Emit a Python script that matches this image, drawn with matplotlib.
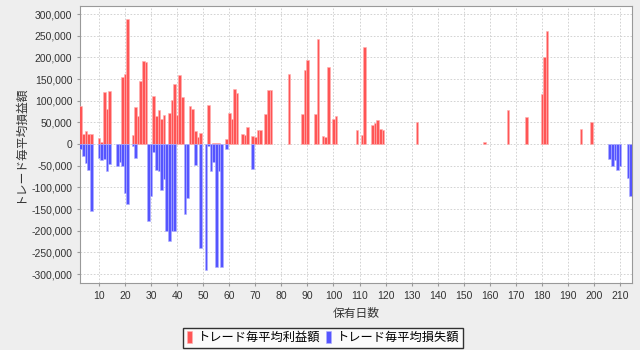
import matplotlib
matplotlib.use('Agg')
import matplotlib.pyplot as plt
from matplotlib.ticker import FuncFormatter, MultipleLocator
from matplotlib.patches import Patch

plt.rcParams['font.family'] = ['Liberation Sans', 'Noto Sans CJK JP', 'DejaVu Sans']

# holding days -> average profit per trade
profit_days = [3, 4, 5, 6, 7, 10, 11, 12, 13, 14, 19, 20, 21, 23, 24, 25, 26, 27, 28,
               31, 32, 33, 34, 35, 37, 38, 39, 40, 41, 42, 45, 46, 47, 48, 49, 52,
               54, 55, 56, 59, 60, 61, 62, 63, 65, 66, 67, 69, 70, 71, 72, 74, 75, 76,
               83, 88, 89, 90, 93, 94, 96, 97, 98, 100, 101, 109, 111, 112,
               115, 116, 117, 118, 119, 132, 158, 167, 174, 180, 181, 182, 195, 199]
profit_vals = [86900, 23000, 29200, 23000, 23000, 13800, 4000, 120700, 81500, 123000,
               156100, 162300, 290000, 21500, 85400, 64600, 146100, 192300, 190000,
               111500, 64600, 79200, 56900, 66900, 71500, 102300, 139200, 66900, 160000,
               108400, 86900, 80700, 30800, 16100, 26100, 90000,
               2000, 2000, 2000, 11500, 71500, 57700, 128400, 117700, 23000, 21500,
               40000, 17700, 15400, 33100, 33100, 69200, 125300, 123800,
               162300, 69200, 171500, 194600, 69200, 243800, 19200, 15400, 176900,
               56900, 63800, 33100, 21500, 225300,
               44600, 48400, 54600, 35400, 32300, 51500, 3800, 78400, 62300,
               115400, 200700, 261500, 34600, 51500]

# holding days -> average loss per trade
loss_days = [3, 4, 5, 6, 7, 10, 11, 12, 13, 14, 17, 18, 19, 20, 21, 23, 24,
             29, 30, 31, 32, 33, 34, 35, 36, 37, 38, 39, 43, 44, 47, 49, 51, 52,
             53, 54, 55, 56, 57, 59, 69, 206, 207, 208, 209, 210, 213, 214]
loss_vals = [-11500, -28500, -43800, -60800, -155300, -31500, -36900, -34600, -62300,
             -46900, -50800, -40800, -50800, -112300, -139200, -5400, -31500,
             -176900, -120000, -19200, -59200, -62300, -106100, -80000, -200000,
             -223800, -201500, -200000, -160700, -124600, -49200, -240000, -290000,
             -3800, -63100, -40800, -283800, -61500, -283800, -11500, -57700,
             -35400, -51500, -37700, -59200, -51500, -79200, -119200]

profit_label = 'トレード毎平均利益額'
loss_label = 'トレード毎平均損失額'
red = '#ff5555'
blue = '#5555ff'

fig = plt.figure(figsize=(6.4, 3.5), dpi=100, facecolor='#eeeeee')
ax = fig.add_axes([0.125, 0.191, 0.8625, 0.792])
ax.set_facecolor('white')

ax.bar(profit_days, profit_vals, width=1.0, color=red, edgecolor='#ffb0b0', linewidth=0.4, zorder=3)
ax.bar(loss_days, loss_vals, width=1.0, color=blue, edgecolor='#b0b0ff', linewidth=0.4, zorder=3)

ax.set_xlim(2.7, 214.6)
ax.set_ylim(-321000, 319000)
ax.yaxis.set_major_locator(MultipleLocator(50000))
ax.yaxis.set_major_formatter(FuncFormatter(lambda v, p: '{:,.0f}'.format(v)))
ax.set_xticks(range(10, 211, 10))

ax.grid(True, color='#cccccc', linestyle=(0, (2, 2)), linewidth=0.6, zorder=0)
for s in ax.spines.values():
    s.set_color('#999999')
    s.set_linewidth(0.8)
ax.tick_params(labelsize=7.5, colors='#999999', labelcolor='#333333', length=2, width=0.8)

ax.set_xlabel('保有日数', fontsize=8.5, color='#333333', labelpad=5)
ax.set_ylabel('トレード毎平均損益額', fontsize=8.5, color='#333333', labelpad=4)

handles = [Patch(facecolor=red, edgecolor='#ffb0b0', linewidth=0.4),
           Patch(facecolor=blue, edgecolor='#b0b0ff', linewidth=0.4)]
leg = fig.legend(handles, [profit_label, loss_label], loc='center', bbox_to_anchor=(0.505, 0.035),
                 ncol=2, fontsize=8.8, frameon=True, fancybox=False, handlelength=0.45,
                 handleheight=1.1, handletextpad=0.5, columnspacing=0.4, borderpad=0.3,
                 borderaxespad=0)
leg.get_frame().set_edgecolor('black')
leg.get_frame().set_facecolor('white')
leg.get_frame().set_linewidth(1.0)

fig.savefig('out.png', dpi=100, facecolor=fig.get_facecolor())
